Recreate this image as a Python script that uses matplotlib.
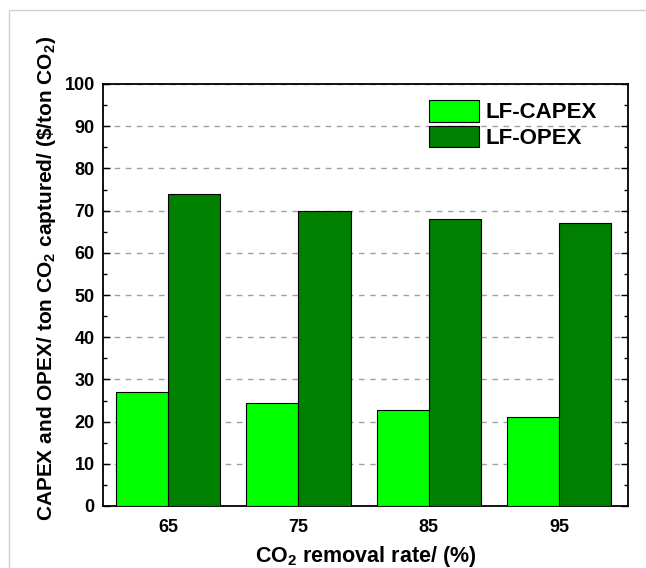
import matplotlib
matplotlib.use("Agg")
import matplotlib.pyplot as plt
import numpy as np
from matplotlib.patches import Rectangle
from matplotlib.ticker import MultipleLocator

# CO2 removal rate categories and cost per ton captured
removal_rates = ["65", "75", "85", "95"]
capex = [26.9, 24.4, 22.7, 21.0]
opex = [74.0, 70.0, 68.0, 67.0]
series_labels = ["LF-CAPEX", "LF-OPEX"]
series_colors = ["#00FF00", "#008000"]

plt.rcParams["font.family"] = ["Liberation Sans", "DejaVu Sans"]
plt.rcParams["font.weight"] = "bold"
plt.rcParams["mathtext.fontset"] = "custom"
plt.rcParams["mathtext.rm"] = "Liberation Sans:bold"
plt.rcParams["mathtext.default"] = "rm"

fig = plt.figure(figsize=(6.46, 5.68), dpi=100)
# faint frame like the source screenshot
fig.patches.append(Rectangle((9 / 646, -0.1), 1.2, 1.1 - 10 / 568,
                             transform=fig.transFigure, fill=False,
                             edgecolor="#d0d0d0", linewidth=1.0))
ax = fig.add_axes([103 / 646, 62 / 568, 525 / 646, 422 / 568])

x = np.arange(len(removal_rates))
w = 0.4
ax.bar(x - w / 2, capex, width=w, color=series_colors[0], edgecolor="black",
       linewidth=0.8, label=series_labels[0], zorder=3)
ax.bar(x + w / 2, opex, width=w, color=series_colors[1], edgecolor="black",
       linewidth=0.8, label=series_labels[1], zorder=3)

ax.set_xlim(-0.5, 3.53)
ax.set_ylim(0, 100)
ax.set_xticks(x)
ax.set_xticklabels(removal_rates)
ax.yaxis.set_major_locator(MultipleLocator(10))
ax.yaxis.set_minor_locator(MultipleLocator(5))
ax.tick_params(axis="y", which="both", direction="in", right=True, labelsize=13)
ax.tick_params(axis="y", which="major", length=5, width=1, pad=6)
ax.tick_params(axis="y", which="minor", length=3, width=1)
ax.tick_params(axis="x", length=0, labelsize=13, pad=9)
for lbl in ax.get_xticklabels() + ax.get_yticklabels():
    lbl.set_fontweight("bold")
for s in ax.spines.values():
    s.set_linewidth(1.3)

ax.yaxis.grid(True, linestyle=(0, (4, 4)), color="#a0a0a0", linewidth=1, zorder=0)
ax.set_axisbelow(True)

ax.set_xlabel("CO$_2$ removal rate/ (%)", fontsize=15.5, fontweight="bold", labelpad=6)
ax.set_ylabel("CAPEX and OPEX/ ton CO$_2$ captured/ (\\$/ton CO$_2$)",
              fontsize=15, fontweight="bold")
ax.yaxis.set_label_coords(-0.085, 0.538)

leg = ax.legend(loc="upper right", bbox_to_anchor=(0.941, 0.962), frameon=False,
                prop={"size": 16, "weight": "bold"}, handlelength=2.25,
                handleheight=1.13, handletextpad=0.3, labelspacing=0.1,
                borderaxespad=0, borderpad=0)

fig.savefig("out.png", dpi=100)
